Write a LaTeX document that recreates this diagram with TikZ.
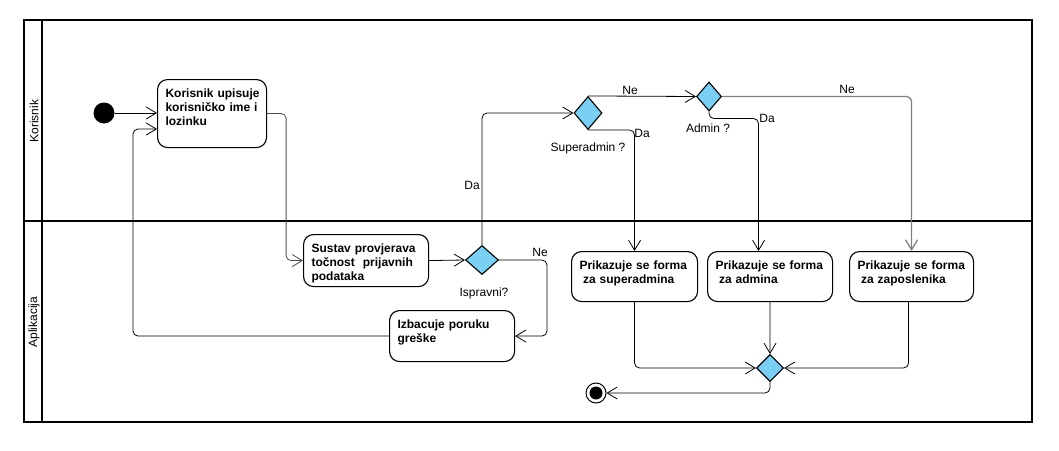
\documentclass[tikz,border=0pt]{standalone}
\usepackage{fontspec}
\setmainfont{Liberation Sans}
\usetikzlibrary{arrows.meta,shapes.geometric}
\definecolor{decblue}{RGB}{122,207,245}
\tikzset{
  frame/.style={line width=1.6pt},
  act/.style={draw, line width=1.1pt, rounded corners=10pt, inner xsep=8pt, inner ysep=0pt,
              align=left, anchor=north west, text height=18pt, font=\fontsize{12}{14}\selectfont\bfseries},
  dec/.style={diamond, draw, line width=1.1pt, fill=decblue, inner sep=0pt},
  flow/.style={line width=0.8pt, rounded corners=5pt, -{Straight Barb[length=10pt,width=12pt]}},
  lbl/.style={font=\fontsize{12}{14}\selectfont, anchor=base, inner sep=0pt},
  lane/.style={font=\fontsize{12}{14}\selectfont, rotate=90, inner sep=0pt}
}
\begin{document}
\begin{tikzpicture}[x=1pt,y=-1pt]
\useasboundingbox (0,0) rectangle (1059,450);
% swimlanes
\draw[frame] (24,20) rectangle (1032,422);
\draw[frame] (42,20) -- (42,422);
\draw[frame] (24,221) -- (1032,221);
\node[lane] (lk) at (34,121) {Korisnik};
\node[lane] (la) at (34,322) {Aplikacija};

% nodes
\node[circle, fill=black, minimum size=21pt, inner sep=0pt] (start) at (104,113) {};
\node[act, text width=93pt, text depth=50pt] (b1) at (157,79)
  {\mbox{Korisnik upisuje}\\\mbox{korisničko ime i}\\lozinku};
\node[act, text width=109pt, text depth=34pt] (sus) at (303,234)
  {Sustav provjerava\\točnost~~prijavnih\\podataka};
\node[dec, minimum width=33pt, minimum height=29pt] (isp) at (482,260) {};
\node[act, text width=109pt, text depth=33pt] (izb) at (389,310)
  {Izbacuje poruku\\greške};
\node[dec, minimum width=28pt, minimum height=33pt] (sa) at (588,113) {};
\node[dec, minimum width=25pt, minimum height=29pt] (ad) at (709,96.5) {};
\node[act, text width=110pt, text depth=32pt] (psa) at (571,251)
  {Prikazuje se forma\\\hspace*{3.5pt}za superadmina};
\node[act, text width=109pt, text depth=32pt] (pad) at (707,251)
  {Prikazuje se forma\\\hspace*{3.5pt}za admina};
\node[act, text width=108pt, text depth=32pt] (pzp) at (849,251)
  {Prikazuje se forma\\\hspace*{3.5pt}za zaposlenika};
\node[dec, minimum width=27pt, minimum height=27pt] (mg) at (770,368) {};
\node[circle, draw, line width=1pt, fill=white, minimum size=20pt, inner sep=0pt,
      path picture={\fill[black] (path picture bounding box.center) circle (6.5pt);}] (fin) at (596,393) {};

% labels
\node[lbl] (l1) at (472,189) {Da};
\node[lbl] (l2) at (540,256) {Ne};
\node[lbl] (l3) at (484,296) {Ispravni?};
\node[lbl] (l4) at (588,151.5) {Superadmin ?};
\node[lbl] (l5) at (630,94) {Ne};
\node[lbl] (l6) at (642,137) {Da};
\node[lbl] (l7) at (708,132) {Admin ?};
\node[lbl] (l8) at (767,122) {Da};
\node[lbl] (l9) at (847,93) {Ne};

% connectors
\coordinate (lp) at (133,129);
\coordinate (ne1) at (547,260);
\draw[flow] (start) -- (b1.west |- start);
\draw[flow, draw=black!70] (b1.east) -- ++(19,0) |- (sus.west);
\draw[flow] (izb.west) -| (lp) -- (lp -| b1.west);
\draw[flow] (sus.east) -- (isp.west);
\draw[flow] (isp.north) |- (sa.west);
\draw[flow] (isp.east) -- (ne1) |- (izb.east);
\draw[flow] (sa.north) -- (ad.west);
\draw[flow] (sa.south) -| (psa.north);
\draw[flow] (ad.south) -- ++(0,7) -| ([xshift=-11.5pt]pad.north);
\draw[flow, draw=gray, line width=1.3pt] (ad.east) -| (pzp.north);
\draw[flow] (psa.south) |- (mg.west);
\draw[flow] (pad.south) -- (mg.north);
\draw[flow] ([xshift=-3pt]pzp.south) |- (mg.east);
\draw[flow] (mg.south) |- (fin.east);
\end{tikzpicture}
\end{document}
